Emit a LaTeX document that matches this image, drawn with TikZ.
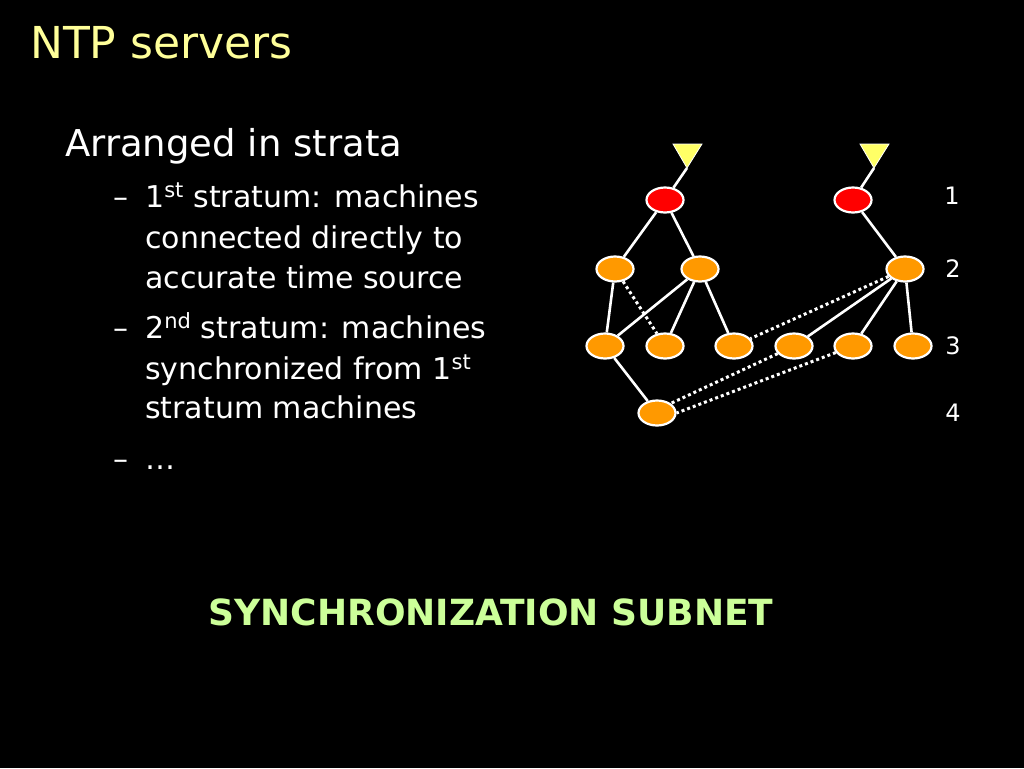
\documentclass[tikz,border=0pt]{standalone}
\usepackage{fontspec}
\setmainfont{DejaVu Sans}
\usetikzlibrary{shapes.geometric}
\definecolor{titleyellow}{RGB}{255,255,153}
\definecolor{subgreen}{RGB}{204,255,153}
\definecolor{nodeorange}{RGB}{255,153,0}
\definecolor{nodered}{RGB}{255,0,0}
\definecolor{triyellow}{RGB}{255,255,102}
\tikzset{
  machine/.style={ellipse, draw=white, line width=2.2pt, fill=nodeorange, minimum width=37pt, minimum height=25pt, inner sep=0pt},
  primary/.style={machine, fill=nodered},
  link/.style={draw=white, line width=2.6pt},
  synclink/.style={draw=white, line width=3pt, dash pattern=on 3pt off 3pt},
  bodytext/.style={anchor=base west, text=white, inner sep=0pt, font=\fontsize{30}{34}\selectfont},
  stratlabel/.style={text=white, inner sep=0pt, font=\fontsize{24}{28}\selectfont}
}
\begin{document}
\begin{tikzpicture}[x=1pt,y=-1pt]
\fill[black] (0,0) rectangle (1024,768);
\useasboundingbox (0,0) rectangle (1024,768);

% texts
\node[anchor=base west, text=titleyellow, inner sep=0pt, font=\fontsize{44}{48}\selectfont] (title) at (30,59) {NTP servers};
\node[anchor=base west, text=white, inner sep=0pt, font=\fontsize{37}{40}\selectfont] (arr) at (65,156) {Arranged in strata};
\node[bodytext] (d1) at (113,207) {–};
\node[bodytext] (l1) at (145,207) {1\textsuperscript{st} stratum: machines};
\node[bodytext] (l2) at (145,248) {connected directly to};
\node[bodytext] (l3) at (145,288) {accurate time source};
\node[bodytext] (d2) at (113,338) {–};
\node[bodytext] (l4) at (145,338) {2\textsuperscript{nd} stratum: machines};
\node[bodytext] (l5) at (145,379) {synchronized from 1\textsuperscript{st}};
\node[bodytext] (l6) at (145,418) {stratum machines};
\node[bodytext] (d3) at (113,469) {–};
\node[bodytext] (l7) at (145,469) {…};
\node[text=subgreen, inner sep=0pt, font=\bfseries\fontsize{36}{40}\selectfont] (subnet) at (491,612) {SYNCHRONIZATION SUBNET};

% stratum labels
\node[stratlabel] (n1) at (952,196) {1};
\node[stratlabel] (n2) at (953,269) {2};
\node[stratlabel] (n3) at (953,346) {3};
\node[stratlabel] (n4) at (953,413) {4};

% time sources
\fill[triyellow, draw=white, line width=0.8pt] (673,144) -- (702,144) -- (687,168) -- cycle;
\fill[triyellow, draw=white, line width=0.8pt] (860,144) -- (889,144) -- (874,168) -- cycle;
\coordinate (t1) at (687,168);
\coordinate (t2) at (874,168);

% machines
\node[primary] (r1) at (665,200) {};
\node[primary] (r2) at (853,200) {};
\node[machine] (a1) at (615,269) {};
\node[machine] (a2) at (700,269) {};
\node[machine] (a3) at (905,269) {};
\node[machine] (b1) at (605,346) {};
\node[machine] (b2) at (665,346) {};
\node[machine] (b3) at (734,346) {};
\node[machine] (b4) at (794,346) {};
\node[machine] (b5) at (853,346) {};
\node[machine] (b6) at (913,346) {};
\node[machine] (c1) at (657,413) {};

% solid links
\draw[link] (t1) -- (r1);
\draw[link] (t2) -- (r2);
\draw[link] (r1) -- (a1);
\draw[link] (r1) -- (a2);
\draw[link] (r2) -- (a3);
\draw[link] (a1) -- (b1);
\draw[link] (a2) -- (b1);
\draw[link] (a2) -- (b2);
\draw[link] (a2) -- (b3);
\draw[link] (a3) -- (b4);
\draw[link] (a3) -- (b5);
\draw[link] (a3) -- (b6);
\draw[link] (b1) -- (c1);

% dotted sync links
\draw[synclink] (a1) -- (b2);
\draw[synclink] (a3) -- (b3);
\draw[synclink] (b4) -- (c1.north east);
\draw[synclink] (b5) -- (c1.east);
\end{tikzpicture}
\end{document}
